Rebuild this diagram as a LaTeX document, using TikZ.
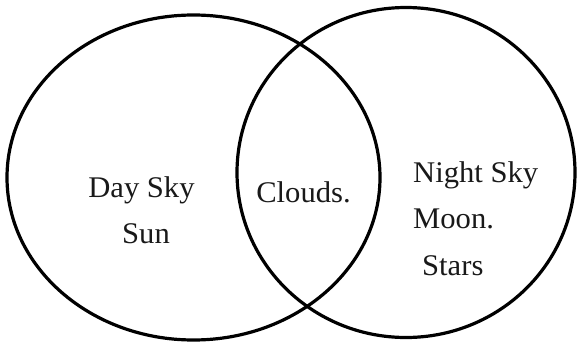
\documentclass[tikz,border=0pt]{standalone}
\usepackage{fontspec}
\setmainfont{Liberation Serif}
\newfontfamily\labelfont[FakeStretch=1.02]{Liberation Serif}
\begin{document}
\begin{tikzpicture}[x=1pt,y=-1pt,
  setline/.style={draw=black,line width=3.2pt},
  lbl/.style={inner sep=0pt,font=\labelfont\fontsize{30}{35}\selectfont,text=black!90}]
\useasboundingbox (0,0) rectangle (577,342);
\fill[white] (0,0) rectangle (577,342);
\draw[setline] (193.5,177.5) ellipse [x radius=186.5, y radius=162.5];
\draw[setline] (406,172.5) ellipse [x radius=169, y radius=165];
\node[lbl,anchor=base] (day) at (141.5,197) {Day Sky};
\node[lbl,anchor=base] (sun) at (146,243) {Sun};
\node[lbl,anchor=base] (clouds) at (303.5,202) {Clouds.};
\node[lbl,anchor=base west] (night) at (413,182) {Night Sky};
\node[lbl,anchor=base west] (moon) at (413,228) {Moon.};
\node[lbl,anchor=base west] (stars) at (422,275) {Stars};
\end{tikzpicture}
\end{document}
